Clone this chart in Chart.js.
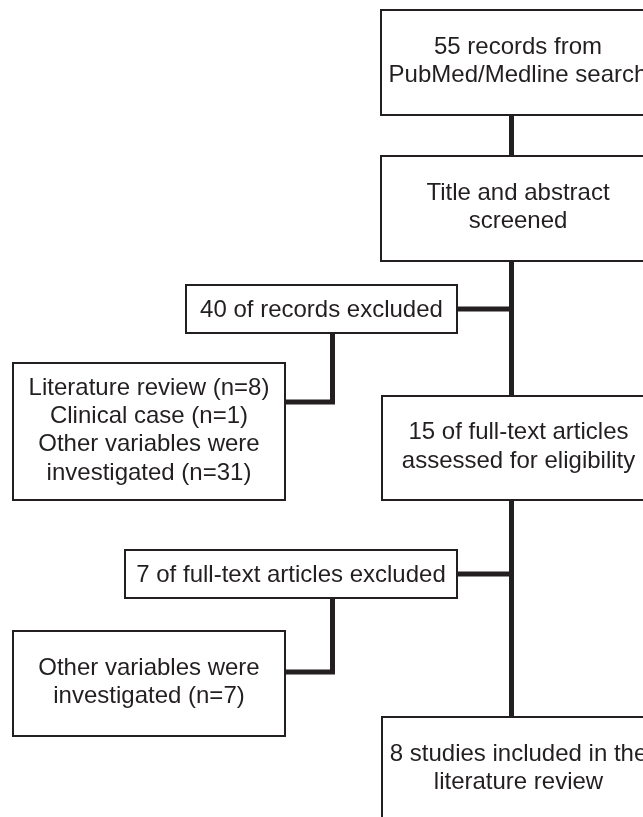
<!DOCTYPE html>
<html>
<head>
<meta charset="utf-8">
<title>Flow diagram</title>
<script src="https://cdn.jsdelivr.net/npm/chart.js@4.4.1/dist/chart.umd.min.js"></script>
<style>
  html, body { margin: 0; padding: 0; background: #fff; }
  canvas { display: block; }
</style>
</head>
<body>
<canvas id="flow" width="643" height="817"></canvas>
<script>
'use strict';

// box texts (one entry per box, one string per line)
var boxTexts = [
  ['55 records from', 'PubMed/Medline search'],
  ['Title and abstract', 'screened'],
  ['40 of records excluded'],
  ['Literature review (n=8)', 'Clinical case (n=1)', 'Other variables were', 'investigated (n=31)'],
  ['15 of full-text articles', 'assessed for eligibility'],
  ['7 of full-text articles excluded'],
  ['Other variables were', 'investigated (n=7)'],
  ['8 studies included in the', 'literature review']
];

// box layout in diagram units (left, right, top, bottom)
var boxLeft   = [381, 381, 186, 13, 382, 125, 13, 382];
var boxRight  = [655, 655, 457, 285, 655, 457, 285, 655];
var boxTop    = [10, 156, 285, 363, 396, 550, 631, 717];
var boxBottom = [115, 261, 333, 500, 500, 598, 736, 822];

// connector paths
var connectors = [
  [[511.5, 115], [511.5, 717]],
  [[457, 309], [511.5, 309]],
  [[457, 574], [511.5, 574]],
  [[332.5, 333], [332.5, 402], [285, 402]],
  [[332.5, 598], [332.5, 672], [285, 672]]
];

var ink = '#231f20';
var fontSize = 24;
var lineHeight = 28.3;

var boxPlugin = {
  id: 'boxes',
  afterDatasetsDraw: function (chart) {
    var c = chart.ctx;
    var xs = chart.scales.x, ys = chart.scales.y;
    c.save();
    for (var i = 0; i < boxTexts.length; i++) {
      var l = xs.getPixelForValue(boxLeft[i]);
      var r = xs.getPixelForValue(boxRight[i]);
      var t = ys.getPixelForValue(boxTop[i]);
      var b = ys.getPixelForValue(boxBottom[i]);
      c.fillStyle = '#ffffff';
      c.fillRect(l, t, r - l, b - t);
      c.strokeStyle = ink;
      c.lineWidth = 2;
      c.strokeRect(l, t, r - l, b - t);

      var lines = boxTexts[i];
      var cx = (l + r) / 2;
      var cy = (t + b) / 2 + (lines.length > 1 ? -1 : 1);
      var y0 = cy - (lines.length - 1) * lineHeight / 2;
      c.fillStyle = ink;
      c.font = fontSize + 'px "Liberation Sans", Arial, sans-serif';
      c.textAlign = 'center';
      c.textBaseline = 'middle';
      for (var k = 0; k < lines.length; k++) {
        c.fillText(lines[k], cx, y0 + k * lineHeight);
      }
    }
    c.restore();
  }
};

var datasets = connectors.map(function (path) {
  return {
    data: path.map(function (p) { return { x: p[0], y: p[1] }; }),
    borderColor: ink,
    borderWidth: 5,
    borderCapStyle: 'butt',
    borderJoinStyle: 'miter',
    pointRadius: 0,
    fill: false,
    tension: 0
  };
});

var chart = new Chart(document.getElementById('flow').getContext('2d'), {
  type: 'line',
  data: { datasets: datasets },
  options: {
    responsive: false,
    animation: false,
    layout: { padding: 0 },
    plugins: {
      legend: { display: false },
      tooltip: { enabled: false }
    },
    scales: {
      x: { type: 'linear', min: 0, max: 643, display: false },
      y: { type: 'linear', min: 0, max: 817, reverse: true, display: false }
    }
  },
  plugins: [boxPlugin]
});
</script>
</body>
</html>
